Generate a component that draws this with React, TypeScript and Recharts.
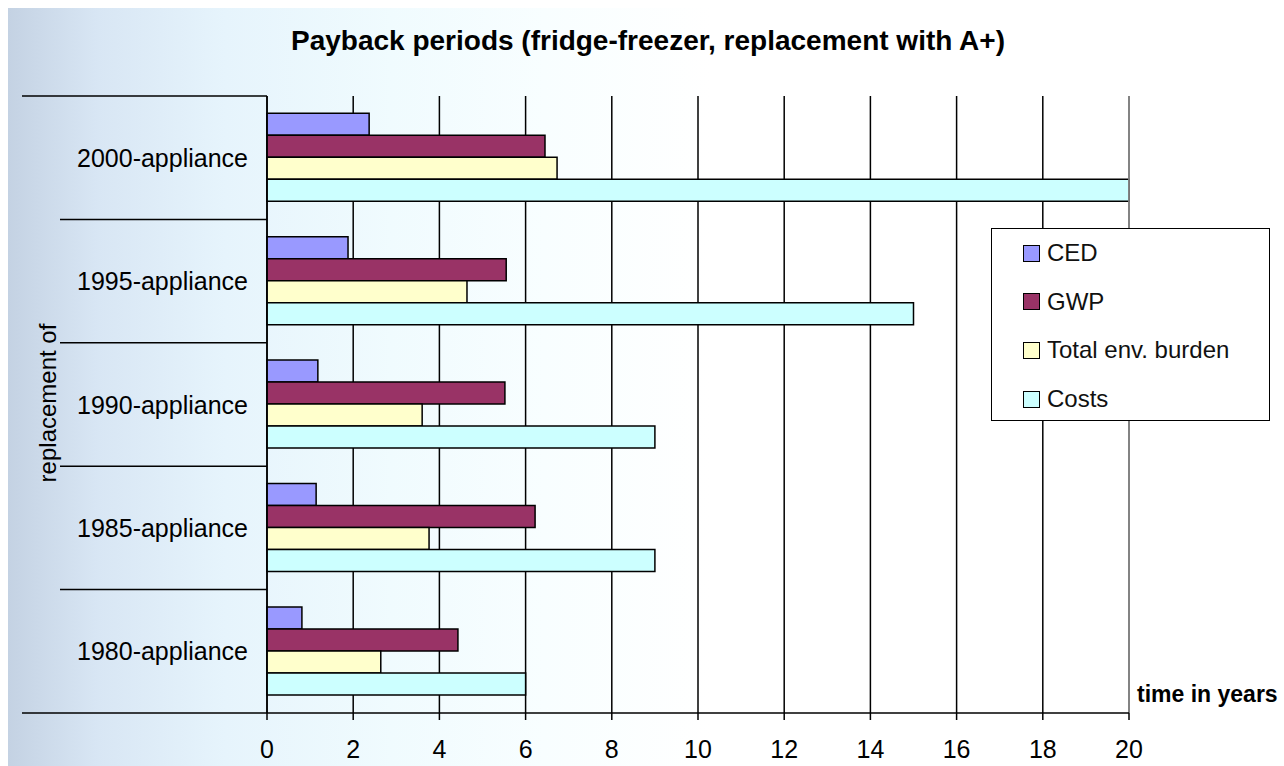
import React from "react";
import {
  BarChart,
  Bar,
  XAxis,
  YAxis,
  CartesianGrid,
  Legend,
  ReferenceLine,
} from "recharts";

// values (years)
const categories = [
  "2000-appliance",
  "1995-appliance",
  "1990-appliance",
  "1985-appliance",
  "1980-appliance",
];
const ced = [2.37, 1.88, 1.18, 1.14, 0.81];
const gwp = [6.45, 5.55, 5.52, 6.22, 4.43];
const totalBurden = [6.73, 4.64, 3.6, 3.76, 2.64];
const costs = [20, 15, 9, 9, 6];
const xTicks = [0, 2, 4, 6, 8, 10, 12, 14, 16, 18, 20];

const series = [
  { key: "ced", name: "CED", color: "#9999FF" },
  { key: "gwp", name: "GWP", color: "#993366" },
  { key: "total", name: "Total env. burden", color: "#FFFFCC" },
  { key: "costs", name: "Costs", color: "#CCFFFF" },
];

const data = categories.map((name, i) => ({
  name,
  ced: ced[i],
  gwp: gwp[i],
  total: totalBurden[i],
  costs: costs[i],
}));

const FONT = '"Liberation Sans", Arial, sans-serif';

// category label plus the Excel-style separator lines between categories
function CategoryTick(props: any) {
  const { x, y, payload, index } = props;
  const half = payload && payload.offset ? payload.offset : 617 / categories.length / 2;
  const axisX = x + 19;
  const last = index === categories.length - 1;
  return (
    <g>
      <line
        x1={index === 0 ? 22 : 60}
        x2={axisX}
        y1={y - half}
        y2={y - half}
        stroke="#000"
        strokeWidth={1.5}
      />
      {last && (
        <line x1={22} x2={axisX} y1={y + half} y2={y + half} stroke="#000" strokeWidth={1.5} />
      )}
      <text
        x={x}
        y={y}
        dy="0.36em"
        textAnchor="end"
        fill="#000"
        fontSize={25}
        fontFamily={FONT}
      >
        {payload.value}
      </text>
    </g>
  );
}

function LegendBox() {
  return (
    <div
      style={{
        position: "relative",
        width: 279,
        height: 193,
        boxSizing: "border-box",
        border: "1.5px solid #000",
        background: "#fff",
        fontFamily: FONT,
      }}
    >
      {series.map((s, i) => (
        <div
          key={s.key}
          style={{
            position: "absolute",
            left: 31,
            top: 24 + i * 48.7 - 14,
            height: 28,
            display: "flex",
            alignItems: "center",
            whiteSpace: "nowrap",
          }}
        >
          <span
            style={{
              width: 15,
              height: 15,
              background: s.color,
              border: "1.5px solid #000",
              marginRight: 7,
              display: "inline-block",
            }}
          />
          <span style={{ fontSize: 24, color: "#111", lineHeight: "28px" }}>{s.name}</span>
        </div>
      ))}
    </div>
  );
}

export default function App() {
  return (
    <div
      style={{
        position: "absolute",
        left: 0,
        top: 0,
        width: 1284,
        height: 766,
        background: "#fff",
        overflow: "hidden",
        fontFamily: FONT,
      }}
    >
      <div
        style={{
          position: "absolute",
          left: 8,
          top: 8,
          width: 1276,
          height: 758,
          background:
            "linear-gradient(to right, #c4d2e3 0%, #d8e6f4 7%, #e6f4fc 17%, #f0fbfe 30%, #f8feff 42%, #ffffff 55%)",
        }}
      />
      <div
        style={{
          position: "absolute",
          left: 648,
          top: 25,
          transform: "translateX(-50%)",
          whiteSpace: "nowrap",
          fontSize: 28,
          fontWeight: "bold",
          lineHeight: "32px",
          color: "#000",
        }}
      >
        Payback periods (fridge-freezer, replacement with A+)
      </div>
      <div
        style={{
          position: "absolute",
          left: 48,
          top: 403,
          transform: "translate(-50%, -50%) rotate(-90deg)",
          whiteSpace: "nowrap",
          fontSize: 24,
          lineHeight: "28px",
          color: "#000",
        }}
      >
        replacement of
      </div>
      <div
        style={{
          position: "absolute",
          left: 1137,
          top: 681,
          whiteSpace: "nowrap",
          fontSize: 23,
          fontWeight: "bold",
          lineHeight: "26px",
          color: "#000",
        }}
      >
        time in years
      </div>
      <div style={{ position: "absolute", left: 0, top: 0 }}>
        <BarChart
          layout="vertical"
          width={1284}
          height={766}
          data={data}
          margin={{ top: 96, right: 155, bottom: 0, left: 0 }}
          barCategoryGap="14%"
          barGap={0}
        >
          <CartesianGrid horizontal={false} vertical stroke="#000" strokeWidth={1.5} />
          <ReferenceLine x={20} stroke="#9a9a9a" strokeWidth={1.5} />
          <XAxis
            type="number"
            domain={[0, 20]}
            ticks={xTicks}
            height={53}
            axisLine={{ stroke: "#000", strokeWidth: 1.5 }}
            tickLine={{ stroke: "#000", strokeWidth: 1.5 }}
            tickSize={7}
            tickMargin={20}
            tick={{ fill: "#000", fontSize: 25, fontFamily: FONT }}
            interval={0}
          />
          <XAxis
            xAxisId="top"
            orientation="top"
            type="number"
            domain={[0, 20]}
            height={0}
            tick={false}
            tickLine={false}
            axisLine={{ stroke: "#9a9a9a", strokeWidth: 1.5 }}
          />
          <YAxis
            type="category"
            dataKey="name"
            width={267}
            axisLine={{ stroke: "#000", strokeWidth: 1.5 }}
            tickLine={false}
            tickSize={6}
            tickMargin={13}
            tick={<CategoryTick />}
            interval={0}
          />
          <Legend
            layout="vertical"
            align="center"
            verticalAlign="middle"
            wrapperStyle={{ left: 991, top: 228, width: 279, height: 193 }}
            content={() => <LegendBox />}
          />
          {series.map((s) => (
            <Bar
              key={s.key}
              dataKey={s.key}
              name={s.name}
              fill={s.color}
              stroke="#000"
              strokeWidth={1.5}
              isAnimationActive={false}
            />
          ))}
        </BarChart>
      </div>
    </div>
  );
}
